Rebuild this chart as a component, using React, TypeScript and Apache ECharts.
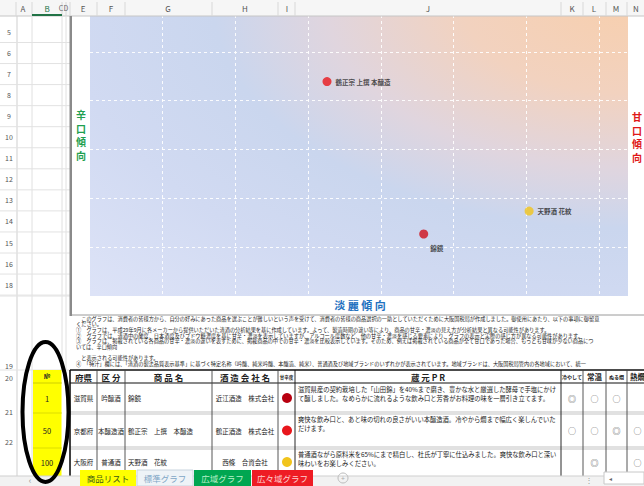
import React, { useEffect, useRef } from "react";
import * as echarts from "echarts";

// ---- chart data (table order) ----
const productNames = ["錦鏡", "鶴正宗 上撰 本醸造", "天野酒 花紋"];
const sweetnessValues = [4.59, 3.26, 6.04]; // x: 辛口 → 甘口
const richnessValues = [1.27, 4.39, 1.74]; // y: 淡麗 → 濃醇
const markerColors = ["#d0101c", "#e8161c", "#f1c41c"];

// ---- sheet / table data ----
const columnLetters = ["A", "B", "C", "D", "E", "F", "G", "H", "I", "J", "K", "L", "M", "N"];
const upperRowLabels = ["5", "6", "7", "8", "9", "10", "11", "12", "13", "14", "15", "16", "18"];
const lowerRowLabels = ["19", "20", "21", "22"];
const itemNos = ["1", "50", "100"];
const prefectures = ["滋賀県", "京都府", "大阪府"];
const sakeClasses = ["吟醸酒", "本醸造酒", "普通酒"];
const tableProducts = ["錦鏡", "鶴正宗　上撰　本醸造", "天野酒　花紋"];
const brewers = ["近江酒造　株式会社", "鶴正酒造　株式会社", "西條　合資会社"];
const prTexts = [
  "滋賀県産の契約栽培した「山田錦」を40%まで磨き、豊かな水と厳選した酵母で手塩にかけて醸しました。なめらかに流れるような飲み口と芳香がお料理の味を一層引き立てます。",
  "爽快な飲み口と、あと味の切れの良さがいい本醸造酒。冷やから燗まで幅広く楽しんでいただけます。",
  "普通酒ながら原料米を65%にまで精白し、杜氏が丁寧に仕込みました。爽快な飲み口と深い味わいをお楽しみください。",
];
const servingHeaders = ["冷やして", "常温", "ぬる燗", "熱燗"];
const servingMarks = [
  ["◎", "○", "○", ""],
  ["○", "○", "◎", "○"],
  ["", "◎", "", "○"],
];
const tableHeaders = ["府県", "区 分", "商 品 名", "酒 造 会 社 名", "甘辛度", "蔵 元 P R"];
const sheetTabs = ["商品リスト", "標準グラフ", "広域グラフ", "広々域グラフ"];
const noteLines = [
  "　このグラフは、消費者の皆様方から、自分の好みにあった商品を選ぶことが難しいという声を受けて、消費者の皆様の商品選択の一助としていただくために大阪国税局が作成しました。御使用にあたり、以下の事項に御留意",
  "ください。",
  "①　グラフは、平成29年9月に各メーカーから提供いただいた清酒の分析結果を基に作成しています。よって、製造時期の違い等により、商品の甘辛・濃淡の見え方が分析結果と異なる可能性があります。",
  "②　グラフでは、清酒中の酸度、日本酒度及びブドウ糖濃度を基に甘辛・濃淡を表示していますが、アルコール度数など、他の甘辛・濃淡を感じる要素により、グラフの表示と実際の感じ方が異なる可能性があります。",
  "③　グラフは、掲載されている各商品の甘辛・濃淡の違いを表すために、掲載商品の中での甘辛・濃淡を比較表示しています。そのため、例えば掲載されている商品が全て甘口であった場合、もっとも甘味が少ない商品につ",
  "いては、辛口傾向",
  "",
  "　と表示される可能性があります。",
  "④　「特汁」欄には、「清酒の製法品質表示基準」に基づく特定名称（吟醸、純米吟醸、本醸造、純米）、普通酒及び地域ブランドのいずれかが表示されています。地域ブランドは、大阪国税局管内の各地域において、統一",
];

const JP = "'Noto Sans CJK JP', 'Noto Sans', sans-serif";

export default function App() {
  const ref = useRef<HTMLDivElement>(null);

  useEffect(() => {
    if (!ref.current) return;
    const chart = echarts.init(ref.current, undefined, { renderer: "svg" });

    const g: any[] = [];
    const line = (x1: number, y1: number, x2: number, y2: number, stroke: string, lw = 1, z = 100) =>
      g.push({ type: "line", silent: true, z, shape: { x1, y1, x2, y2 }, style: { stroke, lineWidth: lw } });
    const rect = (x: number, y: number, w: number, h: number, fill: string, stroke = "none", z = 100) =>
      g.push({ type: "rect", silent: true, z, shape: { x, y, width: w, height: h }, style: { fill, stroke } });
    const text = (t: string, x: number, y: number, o: any = {}) => {
      const style: any = {
        text: t,
        fill: o.fill ?? "#222",
        fontSize: o.size ?? 8,
        fontFamily: o.family ?? JP,
        fontWeight: o.weight ?? "normal",
        align: o.align ?? "center",
        verticalAlign: o.valign ?? "middle",
        textAlign: o.align ?? "center",
        textVerticalAlign: o.valign ?? "middle",
      };
      if (o.lh) style.lineHeight = o.lh;
      if (o.width) { style.width = o.width; style.overflow = o.overflow; }
      g.push({ type: "text", silent: true, z: o.z ?? 105, x, y, style });
    };

    // ---- column header row ----
    rect(0, 0, 644, 16, "#f6f6f6");
    line(0, 16, 644, 16, "#c6c6c6");
    const colCenters = [23, 47, 64, 68, 83, 111, 168, 245, 287, 428, 572, 594, 616, 636];
    const colEdges = [16, 32, 62, 66, 70, 97, 125, 212, 278, 295, 561, 583, 606, 627];
    colEdges.forEach((x) => line(x, 2, x, 16, "#d8d8d8"));
    columnLetters.forEach((c, i) => {
      if (c === "C") text("C", 61, 8, { size: 7, fill: "#666" });
      else if (c === "D") text("D", 66, 8, { size: 7, fill: "#666" });
      else text(c, colCenters[i], 8, { size: 8, fill: c === "B" ? "#217346" : "#555" });
    });
    rect(32, 14, 30, 2, "#217346", "none", 101);

    // ---- left frozen area (rows) ----
    rect(0, 16, 70, 354, "#ffffff", "none", 99);
    line(17, 16, 17, 486, "#cfcfcf");
    line(32, 16, 32, 470, "#e0e0e0");
    line(62, 16, 62, 370, "#e0e0e0");
    line(66, 16, 66, 370, "#e0e0e0");
    rect(69.5, 16, 2.5, 300, "#8a8a8a", "none", 102);
    upperRowLabels.forEach((r, i) => {
      const cy = 32 + i * 21.05;
      text(r, 9, cy, { size: 7, fill: "#555" });
      line(0, cy + 10.5, 70, cy + 10.5, "#e2e2e2");
    });
    const lowerY = [366, 378, 412, 442];
    lowerRowLabels.forEach((r, i) => text(r, 9, lowerY[i], { size: 7, fill: "#555" }));
    line(0, 296, 70, 296, "#e2e2e2");
    line(0, 370, 70, 370, "#e2e2e2");

    // ---- chart frame ----
    line(72, 315, 644, 315, "#9a9a9a");
    rect(72, 316, 572, 54, "#ffffff", "none", 99);

    // axis titles
    text("辛\n口\n傾\n向", 81, 135, { size: 10, weight: "bold", fill: "#1fa050", lh: 13.5 });
    text("甘\n口\n傾\n向", 637, 137, { size: 10, weight: "bold", fill: "#e01818", lh: 13.5 });
    text("淡 麗 傾 向", 360, 305, { size: 11, weight: "bold", fill: "#1f72c0" });

    // notes (one multi-line block)
    text(noteLines.join("\n"), 76, 315.5, { size: 5.2, align: "left", valign: "top", fill: "#1a1a1a", lh: 5.6 });

    // ---- table ----
    const tTop = 370, hBot = 383, rowB = [413, 448, 476];
    rect(70, 367, 574, 109, "#ffffff", "none", 104);
    rect(33, tTop, 28.5, 106, "#ffff00", "none", 101);
    text("№", 47, 376.5, { size: 6, weight: "bold" });
    const rowMid = [398, 430.5, 462];
    itemNos.forEach((n, i) => text(n, 47, rowMid[i], { size: 7.5 }));
    line(33, hBot, 62, hBot, "#b0b000", 0.6, 102);
    rowB.slice(0, 2).forEach((y) => line(33, y, 62, y, "#c8c800", 0.6, 102));

    const tCols = [70, 97, 125, 212, 278, 295, 561, 583, 606, 627, 660];
    line(70, tTop, 644, tTop, "#111", 1.6, 106);
    line(70, hBot, 644, hBot, "#111", 1.2, 106);
    rowB.slice(0, 2).forEach((y) => {
      line(70, y - 1, 644, y - 1, "#9a9a9a", 0.6, 106);
      line(70, y + 1, 644, y + 1, "#9a9a9a", 0.6, 106);
    });
    tCols.forEach((x, i) => line(x, tTop, x, 476, i === 0 || i === 5 || i === 6 ? "#111" : "#444", i === 0 ? 1.6 : 0.9, 106));
    tableHeaders.forEach((h, i) =>
      text(h, (tCols[i] + tCols[i + 1]) / 2, 376.5, { size: i === 4 ? 4.5 : 8.5, weight: "bold", z: 107 })
    );
    servingHeaders.forEach((h, i) =>
      text(h, (tCols[6 + i] + tCols[6 + i + 1]) / 2 - (i === 3 ? 6 : 0), 376.5, { size: i === 0 || i === 2 ? 5 : 7.5, weight: "bold", z: 107 })
    );
    const rowTop = [383, 413, 448];
    const dotColors = ["#b80010", "#e8161c", "#f1c41c"];
    prefectures.forEach((p, i) => {
      const cy = rowMid[i];
      text(p, 83.5, cy, { size: 6.5, z: 107 });
      text(sakeClasses[i], 111, cy, { size: 6.5, z: 107 });
      text(tableProducts[i], 128, cy, { size: 6.5, align: "left", z: 107 });
      text(brewers[i], 245, cy, { size: 6.5, z: 107 });
      g.push({ type: "circle", silent: true, z: 107, shape: { cx: 287, cy, r: 5 }, style: { fill: dotColors[i] } });
      text(prTexts[i], 298, rowTop[i] + 2.5, {
        size: 6.3, align: "left", valign: "top", width: 262, overflow: "breakAll", lh: 8.6, z: 107,
      });
      servingMarks[i].forEach((m, j) => {
        if (m) text(m, (tCols[6 + j] + tCols[7 + j]) / 2 - (j === 3 ? 6 : 0), cy, { size: 8, fill: "#555", z: 107 });
      });
    });

    // ---- sheet tabs ----
    rect(0, 476, 644, 10, "#f2f2f2", "none", 110);
    line(0, 476, 644, 476, "#cfcfcf", 1, 111);
    text("‹", 30, 480, { size: 9, fill: "#999", z: 112 });
    const tabX = [80, 137, 194, 252];
    const tabW = [56, 56, 57, 61];
    const tabFill = ["#ffff00", "#eef3f7", "#00a651", "#ee1c24"];
    const tabText = ["#3c5a14", "#7fa6c6", "#b8f0c8", "#ffd0d0"];
    sheetTabs.forEach((t, i) => {
      rect(tabX[i], 470, tabW[i], 16, tabFill[i], i === 1 ? "#c8d4de" : "none", 113);
      text(t, tabX[i] + tabW[i] / 2, 478, { size: 8.5, fill: tabText[i], z: 114 });
    });
    g.push({ type: "circle", silent: true, z: 113, shape: { cx: 343, cy: 478, r: 5 }, style: { fill: "none", stroke: "#bbb" } });
    text("+", 343, 478, { size: 7, fill: "#aaa", z: 114 });
    text("⋮", 589, 479, { size: 8, fill: "#999", z: 114 });
    rect(604, 472, 40, 12, "#ffffff", "#c8c8c8", 113);
    text("◂", 610, 478, { size: 6, fill: "#666", z: 114 });

    // highlight ellipse
    g.push({
      type: "ellipse", silent: true, z: 130,
      shape: { cx: 45.5, cy: 412, rx: 23, ry: 70 },
      style: { fill: "none", stroke: "#000", lineWidth: 4 },
    });

    const option: any = {
      animation: false,
      backgroundColor: "#ffffff",
      grid: {
        left: 90, right: 16, top: 3, bottom: 190,
        show: true,
        borderWidth: 0,
        backgroundColor: {
          type: "radial", x: 1, y: 0, r: 1.4,
          colorStops: [
            { offset: 0, color: "#f7cfae" },
            { offset: 0.22, color: "#f2d2bf" },
            { offset: 0.4, color: "#e0d5de" },
            { offset: 0.55, color: "#cad6ee" },
            { offset: 0.75, color: "#d1daf2" },
            { offset: 1, color: "#dde3f7" },
          ],
        },
      },
      xAxis: {
        type: "value", min: 0, max: 7.4, interval: 1,
        axisLine: { show: false }, axisTick: { show: false }, axisLabel: { show: false },
        splitLine: { show: true, showMinLine: false, showMaxLine: false, lineStyle: { color: "rgba(255,255,255,0.9)", type: [3, 3], width: 1 } },
      },
      yAxis: {
        type: "value", min: 0, max: 6, interval: 1,
        axisLine: { show: false }, axisTick: { show: false }, axisLabel: { show: false },
        splitLine: { show: true, showMinLine: false, showMaxLine: false, lineStyle: { color: "rgba(255,255,255,0.9)", type: [3, 3], width: 1 } },
      },
      series: [
        {
          type: "scatter",
          symbolSize: 9,
          data: productNames.map((n, i) => ({
            name: n,
            value: [sweetnessValues[i], richnessValues[i]],
            itemStyle: { color: markerColors[i] },
            label: i === 0 ? { position: "bottom", offset: [13, 1] } : { position: "right", distance: 4 },
          })),
          label: {
            show: true,
            formatter: "{b}",
            fontSize: 6.5,
            fontWeight: "bold",
            color: "#222",
            fontFamily: JP,
          },
        },
      ],
      graphic: { elements: g },
    };
    chart.setOption(option);
    return () => chart.dispose();
  }, []);

  return <div ref={ref} style={{ position: "fixed", left: 0, top: 0, width: 644, height: 486 }} />;
}
